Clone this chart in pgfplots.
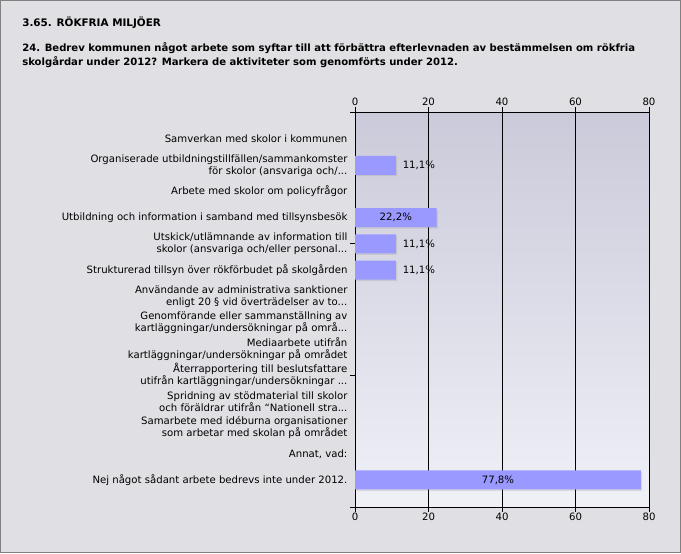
\documentclass[border=0pt]{standalone}
\usepackage{pgfplots}
\pgfplotsset{compat=1.18}
\usepackage{pgfplotstable}
\usepackage{fontspec}
\setmainfont{DejaVu Sans}
\usetikzlibrary{shadows}
\definecolor{bg}{RGB}{224,224,228}
\definecolor{plottop}{RGB}{202,202,218}
\definecolor{plotbot}{RGB}{240,240,247}
\definecolor{barc}{RGB}{153,153,255}
\pgfplotstableread{
y x inside lab
1 11.1 0 {11,1\%}
3 22.2 1 {22,2\%}
4 11.1 0 {11,1\%}
5 11.1 0 {11,1\%}
13 77.8 1 {77,8\%}
}\datatable
\newcommand{\lf}{\fontsize{7.6pt}{9pt}\selectfont}
\newcommand{\ddd}{...}
\begin{document}
\begin{tikzpicture}
\fill[bg] (0,0) rectangle (510.75pt,-414.75pt);
\draw[gray, line width=0.75pt] (0.375pt,-0.375pt) rectangle (510.375pt,-414.375pt);
\node[anchor=west, inner sep=0pt, font=\bfseries\fontsize{7.8pt}{9pt}\selectfont] at (16.5pt,-17.25pt) {3.65. RÖKFRIA MILJÖER};
\node[anchor=west, inner sep=0pt, font=\bfseries\fontsize{7.55pt}{9pt}\selectfont] at (16.5pt,-36pt) {24. Bedrev kommunen något arbete som syftar till att förbättra efterlevnaden av bestämmelsen om rökfria};
\node[anchor=west, inner sep=0pt, font=\bfseries\fontsize{7.55pt}{9pt}\selectfont] at (16.5pt,-46.5pt) {skolgårdar under 2012? Markera de aktiviteter som genomförts under 2012.};
\begin{axis}[
  at={(266.25pt,-84pt)}, anchor=north west,
  scale only axis, width=220.5pt, height=296.25pt,
  xbar, bar width=14.25pt,
  xmin=0, xmax=80, ymin=-1.03, ymax=14.03, y dir=reverse,
  axis background/.style={shade, top color=plottop, bottom color=plotbot},
  axis line style={black, line width=0.75pt},
  xtick={0,20,40,60,80},
  xmajorgrids, grid style={black, line width=0.75pt},
  xticklabel pos=upper,
  tick align=outside, xtick pos=both, ytick pos=left,
  major tick length=3.5pt,
  tick style={black, line width=0.75pt},
  xticklabel style={font=\lf, inner sep=1pt},
  /pgf/number format/assume math mode=true,
  ytick={0,1,2,3,4,5,6,7,8,9,10,11,12,13},
  ytick style={draw=none},
  yticklabel style={font=\lf, align=right, inner sep=0pt, xshift=-2pt},
  yticklabels={
    {Samverkan med skolor i kommunen},
    {Organiserade utbildningstillfällen/sammankomster\\för skolor (ansvariga och/\ddd},
    {Arbete med skolor om policyfrågor},
    {Utbildning och information i samband med tillsynsbesök},
    {Utskick/utlämnande av information till\\skolor (ansvariga och/eller personal\ddd},
    {Strukturerad tillsyn över rökförbudet på skolgården},
    {Användande av administrativa sanktioner\\enligt 20 § vid överträdelser av to\ddd},
    {Genomförande eller sammanställning av\\kartläggningar/undersökningar på områ\ddd},
    {Mediaarbete utifrån\\kartläggningar/undersökningar på området},
    {Återrapportering till beslutsfattare\\utifrån kartläggningar/undersökningar \ddd},
    {Spridning av stödmaterial till skolor\\och föräldrar utifrån “Nationell stra\ddd},
    {Samarbete med idéburna organisationer\\som arbetar med skolan på området},
    {Annat, vad:},
    {Nej något sådant arbete bedrevs inte under 2012.}
  },
  extra y ticks={-1.03,3.97,9.0,14.03},
  extra y tick labels={},
  extra y tick style={ytick pos=left, ytick style={draw=black, line width=0.75pt}, major tick length=3.5pt, tick align=outside},
]
\addplot[fill=barc, draw=none,
  drop shadow={shadow xshift=1pt, shadow yshift=-1pt, opacity=0.2},
  point meta=explicit symbolic,
  nodes near coords,
  visualization depends on={\thisrow{inside} \as \inside},
  visualization depends on={x \as \xv},
  nodes near coords style={anchor=center, font=\lf, text=black,
    xshift={(\inside*(-1.378125*\xv) + (1-\inside)*17.3)*1pt}},
] table[x=x, y=y, meta=lab] {\datatable};
\end{axis}
\begin{axis}[
  at={(266.25pt,-84pt)}, anchor=north west,
  scale only axis, width=220.5pt, height=296.25pt,
  xmin=0, xmax=80, ymin=0, ymax=1,
  axis line style={draw=none},
  xtick={0,20,40,60,80}, xticklabel pos=lower, xtick pos=lower,
  major tick length=3.5pt, tick align=outside,
  tick style={draw=none},
  xticklabel style={font=\lf, inner sep=1pt},
  /pgf/number format/assume math mode=true,
  ytick=\empty,
]
\end{axis}
\end{tikzpicture}
\end{document}
